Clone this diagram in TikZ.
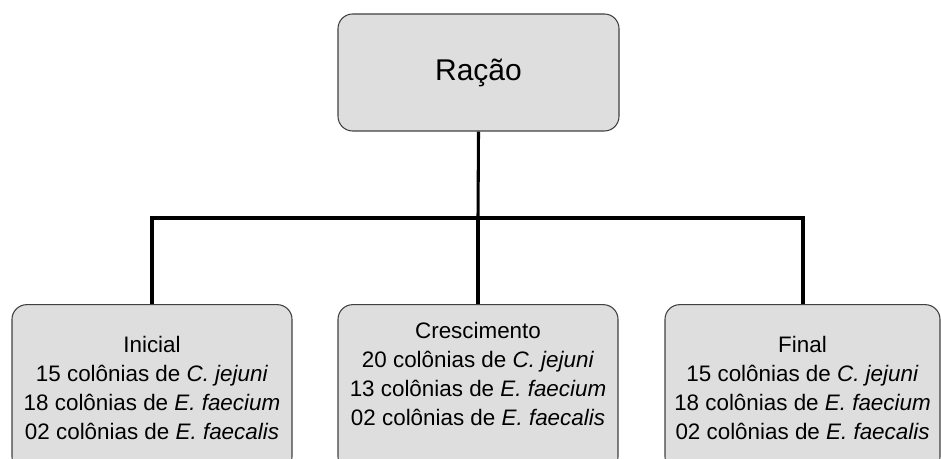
\documentclass[tikz,border=0pt]{standalone}
\usepackage{fontspec}
\setmainfont{Liberation Sans}
\begin{document}
\begin{tikzpicture}[
        x=0.75pt, y=-0.75pt,
        caixa/.style={draw=black!75, fill=black!13, line width=0.8pt, rounded corners=11pt, align=center,
            font=\fontsize{16.8}{21.75}\selectfont, inner sep=0pt},
        topo/.style={caixa, minimum width=210.75pt, minimum height=87.75pt, font=\fontsize{22.5}{26}\selectfont},
        ramo/.style={caixa, minimum width=210pt, minimum height=125pt},
        ligacao/.style={line width=2.3pt, black}
    ]
        % Área visível
        \useasboundingbox (0,0) rectangle (941,459);
        \clip (0,0) rectangle (941,459);

        % Caixas
        \node[topo] (racao) at (478.5,72.5) {Ração};
        \node[ramo] (inicial) at (152,388)
            {Inicial\\15 colônias de \textit{C. jejuni}\\18 colônias de \textit{E. faecium}\\02 colônias de \textit{E. faecalis}};
        \node[ramo] (cresc) at (478,388)
            {Crescimento\\20 colônias de \textit{C. jejuni}\\13 colônias de \textit{E. faecium}\\02 colônias de \textit{E. faecalis}\\~};
        \node[ramo, minimum width=206.25pt] (final) at (802.5,388)
            {Final\\15 colônias de \textit{C. jejuni}\\18 colônias de \textit{E. faecium}\\02 colônias de \textit{E. faecalis}};

        % Ligações
        \coordinate (barra) at (478,218);
        \draw[ligacao] (racao.south) -- (barra);
        \draw[ligacao] (inicial.north -| 152,0) |- (barra) -| (final.north -| 803,0);
        \draw[ligacao] (barra) -- (cresc.north);

    \end{tikzpicture}
\end{document}
